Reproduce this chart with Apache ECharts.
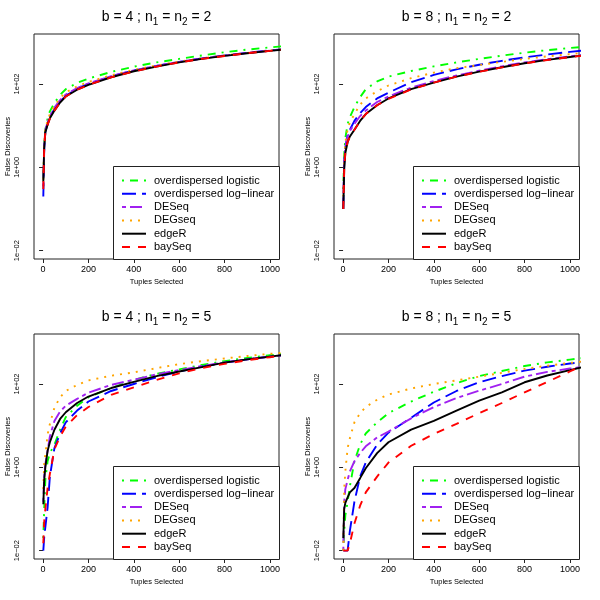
<!DOCTYPE html>
<html><head><meta charset="utf-8">
<script src="https://cdn.jsdelivr.net/npm/echarts@6/dist/echarts.min.js"></script>
<style>html,body{margin:0;padding:0;background:#fff}#c{width:600px;height:600px}</style>
</head><body><div id="c"></div>
<script>
// ---- data ----
const xValues = [1, 5, 10, 20, 30, 50, 75, 100, 150, 200, 300, 400, 500, 600, 700, 800, 900, 1000, 1050];
const seriesNames = ['overdispersed logistic', 'overdispersed log\u2212linear', 'DESeq', 'DEGseq', 'edgeR', 'baySeq'];
const panelB = ['4', '8', '4', '8'];
const panelN = ['2', '2', '5', '5'];
const xTickValues = [0, 200, 400, 600, 800, 1000];
const xTickLabels = ['0', '200', '400', '600', '800', '1000'];
const yTickValues = [0.01, 1, 100];
const yTickLabels = ['1e\u221202', '1e+00', '1e+02'];

// panel 1: b = 4 ; n1 = n2 = 2
const p1Logistic = [0.35, 3.5, 8, 15, 22, 35, 55, 75, 106, 135, 195, 260, 330, 400, 485, 580, 670, 755, 800];
const p1LogLinear = [0.2, 2.8, 7, 11, 16, 25, 38, 52, 77, 100, 152, 212, 272, 340, 410, 485, 560, 640, 680];
const p1DESeq = [0.35, 3.3, 8, 12, 17, 27, 41, 56, 80, 103, 155, 212, 272, 340, 410, 480, 555, 630, 670];
const p1DEGseq = [0.5, 3.6, 8.5, 13, 19, 30, 46, 63, 88, 112, 162, 218, 278, 345, 412, 482, 557, 632, 670];
const p1EdgeR = [0.45, 3, 7, 10.5, 15, 23, 36, 50, 73, 95, 145, 202, 262, 330, 400, 472, 548, 625, 665];
const p1BaySeq = [0.3, 3, 7, 10.5, 15, 23, 36, 50, 73, 95, 145, 200, 262, 330, 400, 470, 548, 622, 662];

// panel 2: b = 8 ; n1 = n2 = 2
const p2Logistic = [0.3, 2, 5, 11, 16, 28, 48, 75, 115, 150, 205, 265, 330, 400, 480, 565, 650, 730, 770];
const p2LogLinear = [0.1, 1.3, 3, 6, 8, 13, 20, 28, 45, 62, 110, 165, 225, 290, 360, 435, 510, 590, 630];
const p2DESeq = [0.15, 1.3, 3, 5.5, 7.5, 11, 17, 23, 37, 50, 82, 118, 160, 209, 265, 330, 395, 460, 495];
const p2DEGseq = [0.2, 1.6, 4, 8, 12, 19, 32, 45, 67, 92, 138, 188, 240, 285, 340, 400, 460, 520, 555];
const p2EdgeR = [0.1, 0.9, 2.2, 4, 5.5, 8, 13, 19, 31, 45, 75, 108, 150, 198, 252, 315, 380, 445, 480];
const p2BaySeq = [0.1, 0.9, 2.3, 4.1, 5.5, 8, 13, 19, 31, 44, 74, 108, 150, 196, 250, 312, 378, 442, 475];

// panel 3: b = 4 ; n1 = n2 = 5
const p3Logistic = [0.02, 0.1, 0.5, 1.4, 2.2, 3.5, 8, 16, 30, 48, 80, 125, 175, 225, 285, 355, 420, 490, 520];
const p3LogLinear = [0.01, 0.021, 0.021, 0.11, 0.6, 2.9, 6.5, 12, 23, 38, 68, 100, 145, 200, 260, 325, 390, 455, 488];
const p3DESeq = [0.15, 0.6, 1.2, 2.5, 5.5, 13, 22, 30, 44, 62, 95, 127, 170, 215, 270, 330, 390, 450, 480];
const p3DEGseq = [0.3, 1.2, 2, 6.2, 11, 27, 48, 68, 95, 122, 158, 190, 240, 300, 355, 410, 470, 530, 560];
const p3EdgeR = [0.13, 0.5, 1.0, 2.5, 4, 8, 14.5, 21, 35, 50, 80, 112, 155, 200, 255, 325, 390, 455, 490];
const p3BaySeq = [0.015, 0.05, 0.1, 0.32, 0.7, 2.7, 5.5, 9.5, 18, 28, 55, 83, 125, 180, 240, 305, 372, 440, 475];

// panel 4: b = 8 ; n1 = n2 = 5
const p4Logistic = [0.01, 0.03, 0.07, 0.15, 0.35, 1.4, 3.5, 6.5, 12, 20, 38, 65, 105, 155, 205, 270, 330, 385, 415];
const p4LogLinear = [0.01, 0.01, 0.01, 0.01, 0.03, 0.15, 0.6, 1.3, 3.5, 6.8, 15.5, 36, 68, 110, 155, 209, 260, 310, 335];
const p4DESeq = [0.01, 0.15, 0.3, 0.5, 0.8, 1.4, 2.2, 3.2, 5.2, 7.2, 15, 28, 46, 69, 100, 150, 195, 235, 255];
const p4DEGseq = [0.01, 0.3, 0.8, 2.9, 5, 12, 20, 28, 42, 56, 78, 100, 122, 150, 185, 230, 275, 320, 345];
const p4EdgeR = [0.02, 0.1, 0.14, 0.19, 0.25, 0.32, 0.55, 0.95, 2.2, 4, 8, 13, 23, 40, 63, 110, 160, 215, 250];
const p4BaySeq = [0.01, 0.01, 0.01, 0.01, 0.015, 0.045, 0.12, 0.25, 0.6, 1.3, 3.3, 6.3, 11, 20, 35, 63, 112, 200, 265];

const panelData = [
  [p1Logistic, p1LogLinear, p1DESeq, p1DEGseq, p1EdgeR, p1BaySeq],
  [p2Logistic, p2LogLinear, p2DESeq, p2DEGseq, p2EdgeR, p2BaySeq],
  [p3Logistic, p3LogLinear, p3DESeq, p3DEGseq, p3EdgeR, p3BaySeq],
  [p4Logistic, p4LogLinear, p4DESeq, p4DEGseq, p4EdgeR, p4BaySeq]
];

// ---- styles ----
const FONT = "'Liberation Sans', Arial, Helvetica, sans-serif";
const lineColors = ['#00FF00', '#0000FF', '#A020F0', '#FFA500', '#000000', '#FF0000'];
const lineDashes = [[2, 6, 8, 6], [14, 6], [4, 4, 12, 4], [2, 6], 'solid', [8, 8]];
const LW = 1.9;

const chart = echarts.init(document.getElementById('c'), null, {renderer: 'canvas'});
const origins = [[0, 0], [300, 0], [0, 300], [300, 300]];

function nearestIndex(list, v, useLog) {
  let best = 0;
  const f = useLog ? Math.log10 : (a => a);
  list.forEach((t, i) => { if (Math.abs(f(t) - f(v)) < Math.abs(f(list[best]) - f(v))) best = i; });
  return best;
}

const grids = [], xAxes = [], yAxes = [], series = [], titles = [], legends = [], gfx = [];
origins.forEach(([ox, oy], p) => {
  grids.push({left: ox + 34, top: oy + 34, width: 245, height: 225, show: true,
    borderColor: '#222', borderWidth: 1, backgroundColor: 'transparent'});
  xAxes.push({gridIndex: p, type: 'value', min: -40, max: 1040,
    axisLine: {show: false}, splitLine: {show: false},
    axisTick: {show: true, customValues: xTickValues, length: 4, lineStyle: {color: '#222', width: 1}},
    axisLabel: {customValues: xTickValues, fontSize: 9, margin: 6, color: '#000', fontFamily: FONT,
      formatter: v => xTickLabels[nearestIndex(xTickValues, v, false)]},
    name: 'Tuples Selected', nameLocation: 'middle', nameGap: 19,
    nameTextStyle: {fontSize: 7.5, color: '#000', fontFamily: FONT}});
  yAxes.push({gridIndex: p, type: 'log', logBase: 10, min: Math.pow(10, -2.2), max: Math.pow(10, 3.2),
    axisLine: {show: false}, splitLine: {show: false},
    axisTick: {show: true, customValues: yTickValues, length: 4, lineStyle: {color: '#222', width: 1}},
    axisLabel: {customValues: yTickValues, rotate: 90, fontSize: 7.5, margin: 13, color: '#000', fontFamily: FONT,
      formatter: v => yTickLabels[nearestIndex(yTickValues, v, true)]},
    name: 'False Discoveries', nameLocation: 'middle', nameGap: 19, nameRotate: 90,
    nameTextStyle: {fontSize: 7.5, color: '#000', fontFamily: FONT}});
  panelData[p].forEach((arr, i) => {
    series.push({type: 'line', name: seriesNames[i], xAxisIndex: p, yAxisIndex: p,
      data: xValues.map((x, j) => [x, arr[j]]), symbol: 'none', clip: true, silent: true,
      lineStyle: {color: lineColors[i], width: LW, type: lineDashes[i], cap: 'butt'},
      itemStyle: {color: lineColors[i]}, z: 2});
  });
  titles.push({text: 'b = ' + panelB[p] + ' ; n{s|1} = n{s|2} = ' + panelN[p],
    left: ox + 156.5, top: oy + 7, textAlign: 'center', padding: 0,
    textStyle: {fontSize: 14, fontWeight: 'normal', color: '#000', fontFamily: FONT, lineHeight: 20,
      rich: {s: {fontSize: 10, lineHeight: 10, verticalAlign: 'bottom', color: '#000', fontFamily: FONT}}}});
  gfx.push({type: 'rect', z: 5, shape: {x: ox + 113.5, y: oy + 166.5, width: 166, height: 93},
    style: {fill: '#fff', stroke: '#222', lineWidth: 1}});
  legends.push({orient: 'vertical', left: ox + 121, top: oy + 174, padding: 0, itemGap: 0.3,
    itemWidth: 24, itemHeight: 13, selectedMode: false, z: 10, data: seriesNames,
    itemStyle: {opacity: 0, borderWidth: 0},
    textStyle: {fontSize: 11, color: '#000', fontFamily: FONT, lineHeight: 13, padding: [0, 0, 0, 3]}});
});

chart.setOption({
  animation: false,
  backgroundColor: '#fff',
  title: titles,
  grid: grids,
  xAxis: xAxes,
  yAxis: yAxes,
  legend: legends,
  graphic: {elements: gfx},
  series: series
});
</script></body></html>
